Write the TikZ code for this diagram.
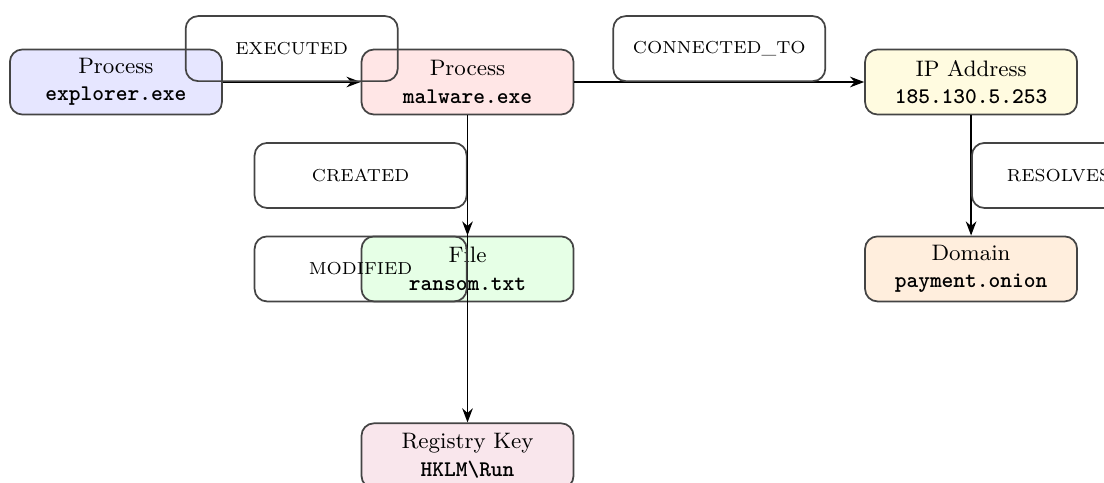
\documentclass[tikz,border=0pt]{standalone}
\usepackage{fontspec}
\usetikzlibrary{arrows.meta,positioning}
\definecolor{procA}{HTML}{E6E6FF}
\definecolor{procB}{HTML}{FFE6E6}
\definecolor{ipbox}{HTML}{FFFBE0}
\definecolor{filebox}{HTML}{E6FFE6}
\definecolor{dombox}{HTML}{FFEEDD}
\definecolor{regbox}{HTML}{F9E6EC}
\definecolor{frameline}{HTML}{444444}

\begin{document}
\begin{tikzpicture}[font=\small,
entity/.style={draw=frameline,fill=#1,rounded corners=5pt,line width=.7pt,minimum width=3cm,minimum height=.92cm,align=center,inner sep=3pt},
rel/.style={draw=frameline,rounded corners=5pt,line width=.7pt,minimum width=3cm,minimum height=.92cm,font=\scriptsize},
arrow/.style={-{Stealth[length=2mm]},line width=.7pt}]
\useasboundingbox (0,0) rectangle (15.62,-6.83);
\node[entity=procA] (explorer) at (1.64,-1.16) {Process\\\textbf{\texttt{explorer.exe}}};
\node[entity=procB,right=1.95cm of explorer] (malware) {Process\\\textbf{\texttt{malware.exe}}};
\node[entity=ipbox,right=4.1cm of malware] (ipaddr) {IP Address\\\textbf{\texttt{185.130.5.253}}};
\node[entity=filebox,below=1.7cm of malware] (ransom) {File\\\textbf{\texttt{ransom.txt}}};
\node[entity=dombox,below=1.7cm of ipaddr] (domain) {Domain\\\textbf{\texttt{payment.onion}}};
\node[entity=regbox,below=1.7cm of ransom] (regkey) {Registry Key\\\textbf{\texttt{HKLM\textbackslash Run}}};
\draw[arrow] (explorer) -- node[rel,above]{EXECUTED} (malware);
\draw[arrow] (malware) -- node[rel,above]{CONNECTED\_TO} (ipaddr);
\draw[arrow] (malware) -- node[rel,left]{CREATED} (ransom);
\draw[arrow] (malware) -- node[rel,left]{MODIFIED} (regkey);
\draw[arrow] (ipaddr) -- node[rel,right,minimum width=2.45cm]{RESOLVES} (domain);
\end{tikzpicture}
\end{document}
